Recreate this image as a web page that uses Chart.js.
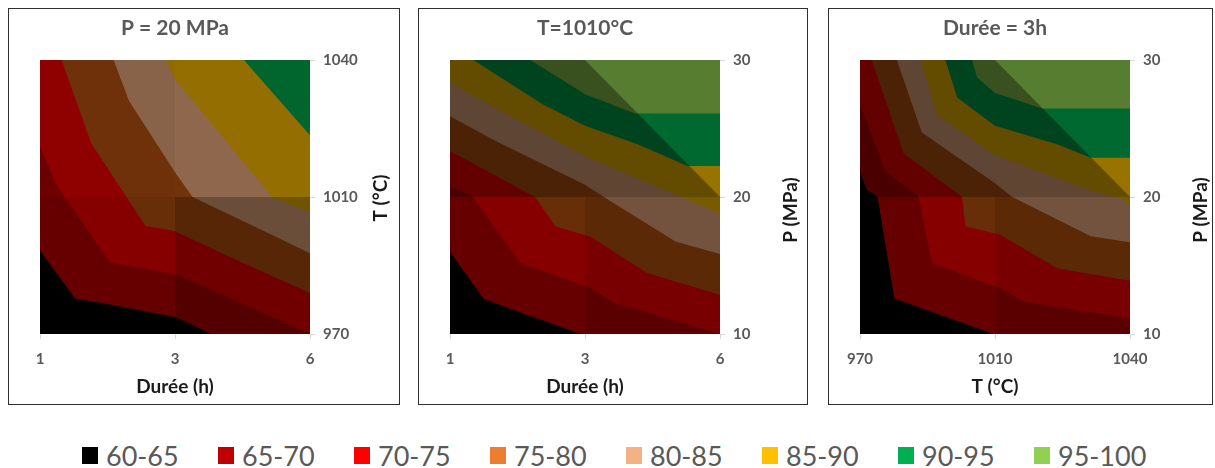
<!DOCTYPE html>
<html>
<head>
<meta charset="utf-8">
<script src="https://cdn.jsdelivr.net/npm/chart.js@4.4.1/dist/chart.umd.min.js"></script>
<style>
  body { margin: 0; width: 1215px; height: 468px; background: #fff; position: relative; overflow: hidden; font-family: Lato, sans-serif; }
  .panel { position: absolute; top: 8px; }
  .panel canvas { display: block; }
  .frame { position: absolute; top: 8px; height: 397px; border: 1.5px solid #303030; box-sizing: border-box; pointer-events: none; }
  #legend { position: absolute; left: 82px; top: 447px; display: flex; }
  .item { width: 136px; height: 17px; display: flex; align-items: center; font-size: 27px; color: #595959; line-height: 1; }
  .item .box { width: 16px; height: 17px; margin-right: 8px; flex: none; }
</style>
</head>
<body>
<div class="panel" style="left:8px"><canvas id="c1" width="392" height="397"></canvas></div>
<div class="panel" style="left:418px"><canvas id="c2" width="390" height="397"></canvas></div>
<div class="panel" style="left:828px"><canvas id="c3" width="385" height="397"></canvas></div>
<div class="frame" style="left:8px;width:392px"></div>
<div class="frame" style="left:418px;width:390px"></div>
<div class="frame" style="left:828px;width:385px"></div>
<div id="legend"></div>

<script>
// bands (%), same for all three charts
const bandLabels = ['60-65', '65-70', '70-75', '75-80', '80-85', '85-90', '90-95', '95-100'];
const bandColors = ['#000000', '#C00000', '#FF0000', '#ED7D31', '#F4B183', '#FFC000', '#00B050', '#92D050'];
// the surface renders orange darker than the other bands
const plotColors = ['#000000', '#C00000', '#FF0000', '#C45810', '#F4B183', '#FFC000', '#00B050', '#92D050'];

// axis tick labels (3 grid points per axis)
const dureeTicks = ['1', '3', '6'];
const tempTicks = ['970', '1010', '1040'];
const presTicks = ['10', '20', '30'];

// contour lines, in grid units (0..2 on both axes)
// P = 20 MPa : x = durée, y = T
const p20_65 = [[0, 0.61], [0.26, 0.26], [0.6, 0.2], [1.0, 0.125], [1.27, 0]];
const p20_70 = [[0, 1.37], [0.12, 1.09], [0.52, 0.52], [1.0, 0.44], [1.5, 0.22], [2, 0]];
const p20_75 = [[0.16, 2], [0.38, 1.39], [0.78, 0.79], [1.0, 0.75], [1.5, 0.52], [2, 0.3]];
const p20_80 = [[0.545, 2], [0.66, 1.7], [1.0, 1.18], [1.13, 1.0], [1.6, 0.78], [2, 0.59]];
const p20_85 = [[0.93, 2], [1.0, 1.86], [1.72, 1.0], [2, 0.886]];
const p20_90 = [[1.51, 2], [2, 1.45]];

// T = 1010 °C : x = durée, y = P
const t1010_65 = [[0, 0.6], [0.25, 0.255], [0.6, 0.13], [0.97, 0]];
const t1010_70 = [[0, 1.08], [0.17, 1.0], [0.52, 0.52], [1.04, 0.335], [1.21, 0.23], [2, 0]];
const t1010_75 = [[0, 1.336], [0.63, 1.0], [0.78, 0.786], [1.04, 0.71], [1.46, 0.445], [2, 0.286]];
const t1010_80 = [[0, 1.59], [0.335, 1.41], [1.0, 1.09], [1.14, 1.0], [1.67, 0.676], [2, 0.584]];
const t1010_85 = [[0, 1.836], [0.335, 1.65], [1.0, 1.3], [1.71, 1.0], [2, 0.877]];
const t1010_90 = [[0.173, 2], [0.68, 1.68], [1.0, 1.52], [1.39, 1.385], [1.76, 1.226], [2, 1.226]];
const t1010_95 = [[0.595, 2], [1.0, 1.75], [1.37, 1.61], [2, 1.61]];

// Durée = 3h : x = T, y = P
const d3_65 = [[0, 1.18], [0.05, 1.055], [0.13, 1.0], [0.255, 0.26], [0.99, 0]];
const d3_70 = [[0, 1.68], [0.186, 1.19], [0.434, 1.0], [0.533, 0.518], [1.04, 0.335], [1.21, 0.237], [2, 0.115]];
const d3_75 = [[0.087, 2], [0.322, 1.32], [0.756, 1.0], [0.78, 0.786], [1.04, 0.725], [1.46, 0.48], [2, 0.388]];
const d3_80 = [[0.273, 2], [0.458, 1.47], [1.0, 1.1], [1.128, 1.0], [1.71, 0.713], [2, 0.67]];
const d3_85 = [[0.446, 2], [0.57, 1.6], [0.99, 1.31], [1.73, 1.04], [1.9, 1.0], [2, 0.945]];
const d3_90 = [[0.632, 2], [0.72, 1.726], [1.0, 1.52], [1.46, 1.385], [1.71, 1.287], [2, 1.287]];
const d3_95 = [[0.83, 2], [0.867, 1.873], [1.0, 1.76], [1.35, 1.646], [2, 1.646]];

// excel 3D lighting: darkness of each cell (black overlay opacity)
const cellLines = { tl: [[0, 2], [1, 2]], tr: [[1, 2], [2, 2]], bl: [[0, 0], [1, 0]], br: [[1, 0], [2, 0]], tri: [[1, 2], [2, 1]] };

const grey = '#595959';

// draws the axis title on the right, reading bottom to top
const sideTitle = {
  id: 'sideTitle',
  afterDraw(chart, args, opts) {
    const { ctx, chartArea } = chart;
    ctx.save();
    ctx.translate(chartArea.right + 71, (chartArea.top + chartArea.bottom) / 2 + opts.dy);
    ctx.rotate(-Math.PI / 2);
    ctx.font = 'bold 19px Lato';
    ctx.fillStyle = '#1a1a1a';
    ctx.textAlign = 'center';
    ctx.textBaseline = 'middle';
    ctx.fillText(opts.text, 0, 0);
    ctx.restore();
  }
};

function area(points, color, fill) {
  return {
    data: points.map(p => ({ x: p[0], y: p[1] })),
    fill: fill,
    backgroundColor: color,
    borderColor: 'rgba(0,0,0,0)',
    borderWidth: 0,
    pointRadius: 0,
    tension: 0
  };
}

// region above a contour line (fill to top of plot)
function upper(line) {
  const pts = line.slice();
  if (pts[0][1] === 2 && pts[0][0] > 0) pts.unshift([0, 2]);
  const last = pts[pts.length - 1];
  if (last[1] === 0 && last[0] < 2) pts.push([2, 0]);
  return pts;
}

function makeChart(id, levels, xTicks, yTicks, title, xTitle, yTitle, shade, dy) {
  const ds = [area([[0, 0], [2, 0]], plotColors[0], 'end')];
  levels.forEach((line, i) => ds.push(area(upper(line), plotColors[i + 1], 'end')));
  Object.keys(shade).forEach(k => {
    if (shade[k] > 0) ds.push(area(cellLines[k], 'rgba(0,0,0,' + shade[k] + ')', { value: 1 }));
  });
  ds.forEach((d, i) => { d.order = 100 - i; });

  const tickFont = { family: 'Lato', size: 15, weight: 'bold' };
  const gridOpts = { drawOnChartArea: false, drawTicks: true, tickLength: 5, color: '#d9d9d9' };

  new Chart(document.getElementById(id), {
    type: 'line',
    data: { datasets: ds },
    options: {
      responsive: false,
      animation: false,
      events: [],
      layout: { padding: { left: 32, top: 0, right: 0, bottom: 0 } },
      scales: {
        x: {
          type: 'linear', min: 0, max: 2, position: 'bottom',
          ticks: { stepSize: 1, autoSkip: false, maxRotation: 0, padding: 11, color: grey, font: tickFont, callback: v => xTicks[v] },
          grid: gridOpts,
          border: { display: false },
          title: { display: true, text: xTitle, color: '#1a1a1a', font: { family: 'Lato', size: 19, weight: 'bold' }, padding: { top: 0, bottom: 7 } },
          afterFit: s => { s.height = 71; }
        },
        y: {
          type: 'linear', min: 0, max: 2, position: 'right',
          ticks: { stepSize: 1, autoSkip: false, padding: 8, color: grey, font: tickFont, callback: v => yTicks[v] },
          grid: gridOpts,
          border: { display: false },
          afterFit: s => { s.width = s.chart.width - 302; }
        }
      },
      plugins: {
        legend: { display: false },
        tooltip: { enabled: false },
        title: {
          display: true, text: title, fullSize: false, color: grey,
          font: { family: 'Lato', size: 21, weight: 'bold' },
          padding: { top: 8, bottom: 18.8 }
        },
        sideTitle: { text: yTitle, dy: dy }
      }
    },
    plugins: [sideTitle]
  });
}

makeChart('c1', [p20_65, p20_70, p20_75, p20_80, p20_85, p20_90], dureeTicks, tempTicks,
  'P = 20 MPa', 'Durée (h)', 'T (°C)', { tl: 0.44, tr: 0.42, bl: 0.47, br: 0.56 }, 1);
makeChart('c2', [t1010_65, t1010_70, t1010_75, t1010_80, t1010_85, t1010_90, t1010_95], dureeTicks, presTicks,
  'T=1010°C', 'Durée (h)', 'P (MPa)', { tl: 0.61, tr: 0.4, bl: 0.47, br: 0.53, tri: 0.35 }, 13);
makeChart('c3', [d3_65, d3_70, d3_75, d3_80, d3_85, d3_90, d3_95], tempTicks, presTicks,
  'Durée = 3h', 'T (°C)', 'P (MPa)', { tl: 0.61, tr: 0.4, bl: 0.47, br: 0.53, tri: 0.35 }, 13);

// shared legend
const legend = document.getElementById('legend');
bandLabels.forEach((lab, i) => {
  const item = document.createElement('div');
  item.className = 'item';
  item.innerHTML = '<span class="box" style="background:' + bandColors[i] + '"></span><span>' + lab + '</span>';
  legend.appendChild(item);
});
</script>
</body>
</html>
